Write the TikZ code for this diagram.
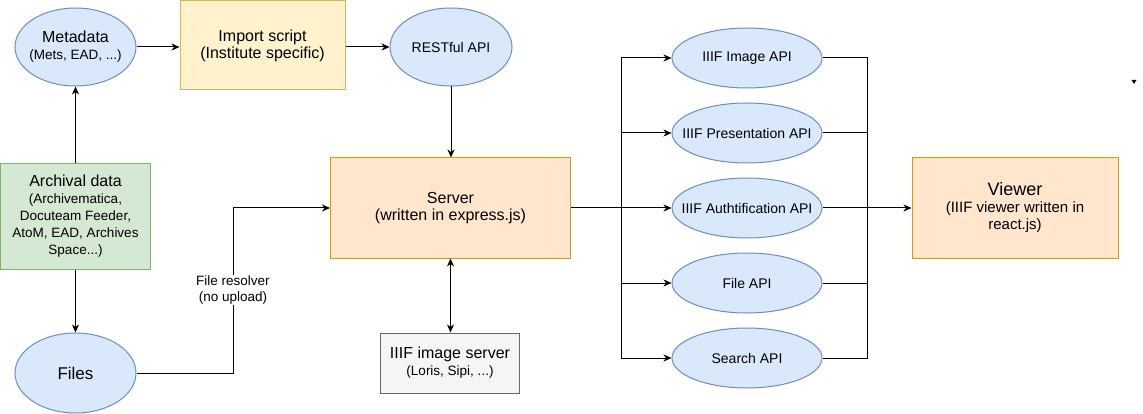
\documentclass[tikz,border=0pt]{standalone}
\usepackage{fontspec}
\setmainfont{Liberation Sans}
\usetikzlibrary{shapes.geometric,arrows.meta}
\definecolor{blueF}{HTML}{DAE8FC}\definecolor{blueD}{HTML}{6C8EBF}
\definecolor{yelF}{HTML}{FFF2CC}\definecolor{yelD}{HTML}{D6B656}
\definecolor{grnF}{HTML}{D5E8D4}\definecolor{grnD}{HTML}{82B366}
\definecolor{orgF}{HTML}{FFE6CC}\definecolor{orgD}{HTML}{D79B00}
\definecolor{gryF}{HTML}{F5F5F5}\definecolor{gryD}{HTML}{666666}
\newcommand\ftitle{\fontsize{16}{18}\selectfont}
\newcommand\fsub{\fontsize{13.5}{17}\selectfont}
\newcommand\fbig{\fontsize{18}{20}\selectfont}
\newcommand\fmid{\fontsize{15}{19}\selectfont}
\begin{document}
\begin{tikzpicture}[x=1pt,y=1pt,
  base/.style={draw,line width=1pt,align=center,inner sep=0pt,font=\fsub},
  ell/.style={base,ellipse,fill=blueF,draw=blueD},
  etxt/.style={align=center,inner sep=0pt,font=\fontsize{14}{17}\selectfont},
  apiell/.style={ell,minimum width=150,minimum height=60},
  yelbox/.style={base,rectangle,fill=yelF,draw=yelD},
  grnbox/.style={base,rectangle,fill=grnF,draw=grnD},
  orgbox/.style={base,rectangle,fill=orgF,draw=orgD},
  grybox/.style={base,rectangle,fill=gryF,draw=gryD},
  arr/.style={line width=1pt,-{Stealth[length=8pt,width=7pt,inset=2.5pt]}},
  darr/.style={line width=1pt,{Stealth[length=8pt,width=7pt,inset=2.5pt]}-{Stealth[length=8pt,width=7pt,inset=2.5pt]}},
  ln/.style={line width=1pt},
  lbl/.style={fill=white,align=center,inner sep=1pt,font=\fontsize{13.5}{16}\selectfont}]
\useasboundingbox (0,0) rectangle (1143,-414);

\node[ell,minimum width=121,minimum height=78,
  label={[etxt]center:{{\ftitle Metadata}\\{\fsub (Mets, EAD, ...)}}}] (meta) at (75.5,-47) {};
\node[yelbox,minimum width=165,minimum height=89] (import) at (262.5,-45.5) {{\ftitle Import script}\\{\ftitle (Institute specific)}};
\node[ell,minimum width=122,minimum height=78,
  label={[etxt]center:RESTful API}] (rest) at (451,-47) {};
\node[grnbox,minimum width=150,minimum height=105] (arch) at (75.5,-216.5) {{\ftitle Archival data}\\(Archivematica,\\Docuteam Feeder,\\AtoM, EAD, Archives\\Space...)};
\node[ell,minimum width=121,minimum height=80,
  label={[etxt,font=\fontsize{17}{19}\selectfont]center:Files}] (files) at (75.5,-373) {};
\node[orgbox,minimum width=240,minimum height=100] (server) at (450.5,-208) {{\ftitle Server}\\{\ftitle (written in express.js)}};
\node[grybox,minimum width=139,minimum height=60] (iiifsrv) at (450,-363) {{\ftitle IIIF image server}\\{\fsub (Loris, Sipi, ...)}};
\node[orgbox,minimum width=206,minimum height=100] (viewer) at (1015,-208) {{\fbig Viewer}\\{\fmid (IIIF viewer written in}\\{\fmid react.js)}};

\node[apiell,label={[etxt]center:IIIF Image API}] (a1) at (747,-58) {};
\node[apiell,label={[etxt]center:IIIF Presentation API}] (a2) at (747,-133) {};
\node[apiell,label={[etxt]center:IIIF Authtification API}] (a3) at (747,-208) {};
\node[apiell,label={[etxt]center:File API}] (a4) at (747,-283) {};
\node[apiell,label={[etxt]center:Search API}] (a5) at (747,-358) {};

\coordinate (busL) at (621,-208);
\coordinate (busR) at (867,-208);
\coordinate (fr) at (233,-373);

\draw[arr] (meta.east) -- (meta.east -| import.west);
\draw[arr] (import.east |- rest.west) -- (rest.west);
\draw[arr] (rest.south) -- (rest.south |- server.north);
\draw[arr] (arch.north) -- (meta.south);
\draw[arr] (arch.south) -- (files.north);
\draw[arr] (files.east) -- (fr) |- (server.west);
\node[lbl] (frlbl) at (233,-290) {File resolver\\(no upload)};
\draw[darr] (server.south) -- (server.south |- iiifsrv.north);

\draw[ln] (server.east) -- (busL);
\foreach \a in {a1,a2,a3,a4,a5} {
  \draw[arr] (busL) |- (\a.west);
  \draw[ln] (\a.east) -| (busR);
}
\draw[arr] (busR) -- (viewer.west);

\fill (1131.5,-80) -- (1136.5,-80) -- (1134,-84) -- cycle;
\end{tikzpicture}
\end{document}
